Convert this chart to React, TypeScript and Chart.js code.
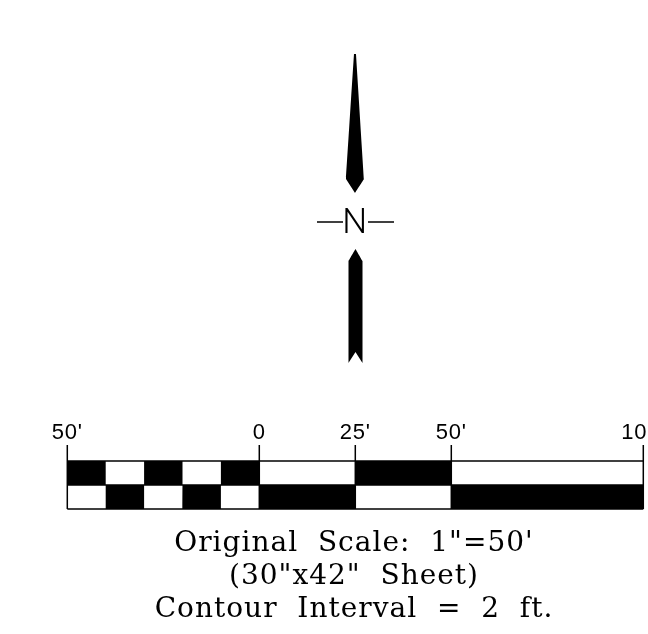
import React, { useEffect, useRef } from "react";
import { Chart, registerables } from "chart.js";

Chart.register(...registerables);

// Scale bar, in feet along the sheet
const scaleTicks = [-50, 0, 25, 50, 100];
const scaleLabels = ["50'", "0", "25'", "50'", "100'"];
const topBlackCells = [[-50, -40], [-30, -20], [-10, 0], [25, 50]];
const bottomBlackCells = [[-40, -30], [-20, -10], [0, 25], [50, 100]];
const rowLevels = [461, 485, 509];
const tickTop = 445;

// North arrow outlines, in sheet units
const upperArrow = [[346, 179], [354, 54], [356, 54], [364, 179], [355, 193]];
const lowerArrow = [[348.5, 261], [355.5, 249], [362.5, 261], [362.5, 363], [355.5, 352], [348.5, 363]];
const northDashes = [[317, 343], [368, 394]];
const northDashLevel = 222;
const northTick = [355];
const northLabel = ["N"];

const noteLines = [
  "Original  Scale:  1\"=50'",
  "(30\"x42\"  Sheet)",
  "Contour  Interval  =  2  ft.",
];

const INK = "#000000";
const LEFT = 60;

function xy(points: number[][]) {
  return points.map(([x, y]) => ({ x, y }));
}

function area(points: { x: number; y: number }[], xAxisID: string) {
  return {
    data: points,
    xAxisID,
    yAxisID: "y",
    showLine: true,
    fill: "shape",
    tension: 1e-6,
    backgroundColor: INK,
    borderColor: INK,
    borderWidth: 0,
    pointRadius: 0,
  };
}

function stroke(points: { x: number; y: number }[], xAxisID: string, width: number) {
  return {
    data: points,
    xAxisID,
    yAxisID: "y",
    showLine: true,
    fill: false,
    backgroundColor: INK,
    borderColor: INK,
    borderWidth: width,
    borderCapStyle: "butt",
    pointRadius: 0,
  };
}

function cell([a, b]: number[], top: number, bottom: number) {
  return area(
    [
      { x: a, y: top },
      { x: a, y: bottom },
      { x: b, y: bottom },
      { x: b, y: top },
    ],
    "x"
  );
}

const letterSpacingPlugin = {
  id: "letterSpacing",
  beforeDraw(chart: any) {
    chart.ctx.letterSpacing = "1px";
  },
  afterDatasetsDraw(chart: any) {
    chart.ctx.letterSpacing = "0.8px";
  },
  afterDraw(chart: any) {
    chart.ctx.letterSpacing = "0px";
  },
};

const noPadding = (axis: any) => {
  axis.paddingLeft = 0;
  axis.paddingRight = 0;
};

export default function App() {
  const ref = useRef<HTMLCanvasElement>(null);

  useEffect(() => {
    const canvas = ref.current;
    if (!canvas) return;
    const [rowTop, rowMid, rowBottom] = rowLevels;
    const first = scaleTicks[0];
    const last = scaleTicks[scaleTicks.length - 1];

    const datasets: any[] = [
      area(xy(upperArrow), "xs"),
      area(xy(lowerArrow), "xs"),
      ...northDashes.map(([a, b]) =>
        stroke([{ x: a, y: northDashLevel }, { x: b, y: northDashLevel }], "xs", 1.5)
      ),
      ...topBlackCells.map((c) => cell(c, rowTop, rowMid)),
      ...bottomBlackCells.map((c) => cell(c, rowMid, rowBottom)),
      ...rowLevels.map((y) => stroke([{ x: first, y }, { x: last, y }], "x", 1.5)),
      ...scaleTicks.map((x) => stroke([{ x, y: tickTop }, { x, y: rowBottom }], "x", 1.5)),
    ];

    const chart = new Chart(canvas, {
      type: "scatter",
      data: { datasets },
      plugins: [letterSpacingPlugin],
      options: {
        animation: false,
        responsive: false,
        devicePixelRatio: 1,
        layout: { padding: { left: LEFT, right: 0, top: 0, bottom: 0 } },
        plugins: {
          legend: { display: false },
          tooltip: { enabled: false },
          title: {
            display: true,
            position: "bottom",
            text: noteLines,
            color: INK,
            font: { family: "'DejaVu Serif'", size: 28, weight: "normal", lineHeight: 33 / 28 },
            padding: { top: 0, bottom: 8 },
          },
        },
        scales: {
          x: {
            type: "linear",
            min: (LEFT - 259.3) / 3.84,
            max: (648 - 259.3) / 3.84,
            position: { y: 420 },
            afterBuildTicks: (axis: any) => {
              axis.ticks = scaleTicks.map((value) => ({ value }));
            },
            afterFit: noPadding,
            grid: { display: false, drawTicks: false },
            border: { display: false },
            ticks: {
              z: 1,
              autoSkip: false,
              maxRotation: 0,
              padding: 0,
              color: INK,
              font: { family: "'Liberation Sans'", size: 22 },
              callback: (_v: any, i: number) => scaleLabels[i],
            },
          },
          xs: {
            type: "linear",
            min: LEFT,
            max: 648,
            position: { y: 203 },
            afterBuildTicks: (axis: any) => {
              axis.ticks = northTick.map((value) => ({ value }));
            },
            afterFit: noPadding,
            grid: { display: false, drawTicks: false },
            border: { display: false },
            ticks: {
              z: 1,
              autoSkip: false,
              maxRotation: 0,
              padding: 0,
              color: INK,
              font: { family: "'Roboto'", size: 35, weight: "300" },
              callback: (_v: any, i: number) => northLabel[i],
            },
          },
          y: {
            type: "linear",
            display: false,
            reverse: true,
            min: 0,
            max: 527,
          },
        },
      } as any,
    });
    return () => chart.destroy();
  }, []);

  return (
    <canvas
      ref={ref}
      width={648}
      height={634}
      style={{ position: "absolute", left: 0, top: 0, width: 648, height: 634, display: "block", background: "#fff" }}
    />
  );
}
